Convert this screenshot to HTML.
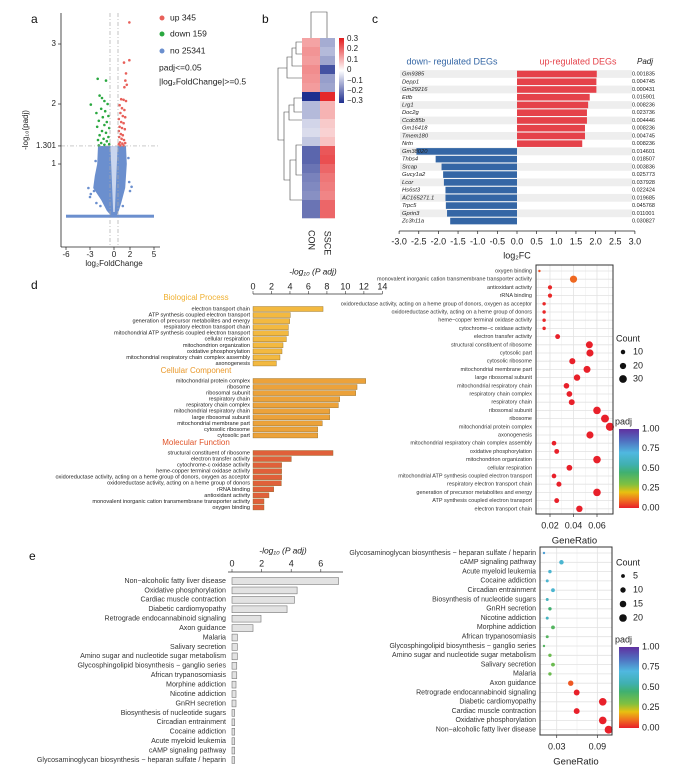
<!DOCTYPE html>
<html><head><meta charset="utf-8">
<style>
body{margin:0;background:#fff;}
svg{display:block;font-family:"Liberation Sans",Arial,sans-serif;}
</style></head>
<body>
<svg id="fig" width="685" height="769" viewBox="0 0 685 769" xmlns="http://www.w3.org/2000/svg">
<defs>
<linearGradient id="heatGrad" x1="0" y1="0" x2="0" y2="1">
<stop offset="0" stop-color="#e31a1c"/><stop offset="0.5" stop-color="#ffffff"/><stop offset="1" stop-color="#1f2f8f"/>
</linearGradient>
<linearGradient id="padjGrad" x1="0" y1="1" x2="0" y2="0">
<stop offset="0" stop-color="#e8202a"/><stop offset="0.1" stop-color="#f07020"/><stop offset="0.2" stop-color="#e8c010"/><stop offset="0.3" stop-color="#80c040"/><stop offset="0.45" stop-color="#40b070"/><stop offset="0.55" stop-color="#40b0b0"/><stop offset="0.7" stop-color="#50b8e0"/><stop offset="0.85" stop-color="#5070c0"/><stop offset="1" stop-color="#6030a0"/>
</linearGradient>
</defs>
</svg>
<script>
// ---------- DATA ----------
const volcanoUp = [[1.92,3.36],[1.92,2.73],[1.25,2.69],[1.5,2.51],[1.42,2.39],[1.6,2.32],[1.3,2.28],[0.9,2.08],[1.2,2.07],[1.5,2.05],[0.7,1.98],[1.0,1.93],[1.3,1.9],[0.8,1.85],[1.1,1.8],[0.6,1.75],[1.4,1.78],[0.9,1.7],[1.2,1.68],[0.7,1.62],[1.0,1.6],[1.35,1.58],[0.6,1.55],[0.85,1.5],[1.1,1.48],[0.65,1.45],[0.95,1.42],[1.25,1.4],[0.75,1.36],[1.05,1.34],[0.6,1.33],[1.4,1.35],[0.8,1.31],[1.2,1.31]];
const volcanoDown = [[-2.04,2.42],[-1.0,2.39],[-1.8,2.14],[-1.5,2.1],[-2.9,1.99],[-1.2,2.05],[-0.8,2.0],[-1.6,1.92],[-1.1,1.88],[-2.2,1.85],[-0.7,1.8],[-1.4,1.78],[-1.9,1.72],[-0.9,1.7],[-1.2,1.65],[-2.1,1.62],[-0.6,1.6],[-1.5,1.55],[-1.0,1.52],[-1.8,1.48],[-0.7,1.45],[-1.3,1.42],[-2.0,1.4],[-0.9,1.38],[-1.6,1.35],[-0.6,1.33],[-1.2,1.32],[-1.9,1.31]];
const volcanoNoEnvelope = [[-2.0,1.3],[-2.1,1.0],[-2.4,0.8],[-2.6,0.6],[-1.6,0.4],[-0.9,0.22],[-0.3,0.13],[0.3,0.13],[0.6,0.22],[0.9,0.35],[1.4,0.6],[1.6,1.0],[1.5,1.3]];
const volcanoNoGap = [[-0.45,1.3],[-0.1,0.2],[0.1,0.2],[0.45,1.3]];
const volcanoNoScatter = [[-3.2,0.6],[-2.9,0.5],[-2.5,0.55],[-3.0,0.45],[-2.2,0.35],[2.0,0.55],[1.9,0.7],[2.2,0.62],[-2.3,1.05],[1.8,1.1],[-1.7,0.3],[1.1,0.3]];
const volcanoXTicks = [-6,-3,0,2,5];
const volcanoYTicks = [1,1.301,2,3];

const heatCON = [0.12,0.14,0.13,0.15,0.14,0.13,-0.3,-0.1,-0.1,-0.06,-0.05,-0.08,-0.22,-0.22,-0.2,-0.18,-0.17,-0.16,-0.2,-0.2];
const heatSSCE = [-0.12,-0.1,-0.13,-0.25,-0.14,-0.13,0.28,0.1,0.1,0.07,0.06,0.08,0.22,0.23,0.2,0.18,0.17,0.16,0.2,0.2];

const degGenes = ["Gm9385","Depp1","Gm29216","Etfb","Lrg1","Doc2g","Ccdc85b","Gm16418","Tmem180","Nrtn","Gm38020","Thbs4","Srcap","Gucy1a2","Lcor","Hs6st3","AC165271.1","Trpc5","Gprin3","Zc3h11a"];
const degLog2FC = [2.03,2.02,2.02,1.85,1.81,1.78,1.78,1.73,1.73,1.66,-2.56,-2.07,-1.92,-1.88,-1.86,-1.82,-1.82,-1.81,-1.78,-1.70];
const degPadj = ["0.001835","0.004745","0.000431","0.015901","0.008236","0.023736","0.004446","0.008236","0.004745","0.008236","0.014601","0.018507","0.003836","0.025773","0.037928","0.022424","0.019685","0.045768","0.011001","0.030827"];
const degTicks = ["-3.0","-2.5","-2.0","-1.5","-1.0","-0.5","0.0","0.5","1.0","1.5","2.0","2.5","3.0"];

const goBPTerms = ["electron transport chain","ATP synthesis coupled electron transport","generation of precursor metabolites and energy","respiratory electron transport chain","mitochondrial ATP synthesis coupled electron transport","cellular respiration","mitochondrion organization","oxidative phosphorylation","mitochondrial respiratory chain complex assembly","axonogenesis"];
const goBPValues = [7.58,4.04,3.97,3.83,3.83,3.61,3.25,3.14,2.92,2.53];
const goCCTerms = ["mitochondrial protein complex","ribosome","ribosomal subunit","respiratory chain","respiratory chain complex","mitochondrial respiratory chain","large ribosomal subunit","mitochondrial membrane part","cytosolic ribosome","cytosolic part"];
const goCCValues = [12.2,11.26,11.12,9.39,9.24,8.3,8.3,7.5,7.0,7.0];
const goMFTerms = ["structural constituent of ribosome","electron transfer activity","cytochrome-c oxidase activity","heme-copper terminal oxidase activity","oxidoreductase activity, acting on a heme group of donors, oxygen as acceptor","oxidoreductase activity, acting on a heme group of donors","rRNA binding","antioxidant activity","monovalent inorganic cation transmembrane transporter activity","oxygen binding"];
const goMFValues = [8.66,4.15,3.1,3.1,3.1,3.07,2.24,1.73,1.19,1.19];
const goTicks = [0,2,4,6,8,10,12,14];

const goDotTerms = ["oxygen binding","monovalent inorganic cation transmembrane transporter activity","antioxidant activity","rRNA binding","oxidoreductase activity, acting on a heme group of donors, oxygen as acceptor","oxidoreductase activity, acting on a heme group of donors","heme\u2212copper terminal oxidase activity","cytochrome\u2212c oxidase activity","electron transfer activity","structural constituent of ribosome","cytosolic part","cytosolic ribosome","mitochondrial membrane part","large ribosomal subunit","mitochondrial respiratory chain","respiratory chain complex","respiratory chain","ribosomal subunit","ribosome","mitochondrial protein complex","axonogenesis","mitochondrial respiratory chain complex assembly","oxidative phosphorylation","mitochondrion organization","cellular respiration","mitochondrial ATP synthesis coupled electron transport","respiratory electron transport chain","generation of precursor metabolites and energy","ATP synthesis coupled electron transport","electron transport chain"];
const goDotRatio = [0.011,0.040,0.020,0.020,0.015,0.015,0.015,0.015,0.0265,0.0535,0.054,0.039,0.0515,0.043,0.034,0.0365,0.0385,0.060,0.0668,0.071,0.054,0.0234,0.0257,0.060,0.0365,0.0234,0.0276,0.060,0.0257,0.045];
const goDotCount = [3,26,9,9,6,6,6,6,12,25,26,19,25,21,16,17,18,29,32,34,26,11,12,29,17,11,13,29,12,21];
const goDotPadj = [0.06,0.09,0.01,0.01,0.01,0.01,0.01,0.01,0.0,0.0,0.0,0.0,0.0,0.0,0.0,0.0,0.0,0.0,0.0,0.0,0.0,0.0,0.0,0.0,0.0,0.0,0.0,0.0,0.0,0.0];
const goDotTicks = [0.02,0.04,0.06];
const goCountLegend = [10,20,30];

const keggTerms = ["Non\u2212alcoholic fatty liver disease","Oxidative phosphorylation","Cardiac muscle contraction","Diabetic cardiomyopathy","Retrograde endocannabinoid signaling","Axon guidance","Malaria","Salivary secretion","Amino sugar and nucleotide sugar metabolism","Glycosphingolipid biosynthesis \u2212 ganglio series","African trypanosomiasis","Morphine addiction","Nicotine addiction","GnRH secretion","Biosynthesis of nucleotide sugars","Circadian entrainment","Cocaine addiction","Acute myeloid leukemia","cAMP signaling pathway","Glycosaminoglycan biosynthesis \u2212 heparan sulfate / heparin"];
const keggValues = [7.2,4.4,4.22,3.72,1.96,1.42,0.36,0.36,0.36,0.32,0.32,0.27,0.27,0.27,0.18,0.18,0.18,0.18,0.18,0.18];
const keggTicks = [0,2,4,6];
const keggDotRatio = [0.1067,0.098,0.0595,0.098,0.0595,0.0507,0.020,0.0245,0.020,0.0112,0.016,0.0245,0.016,0.020,0.016,0.0245,0.016,0.020,0.037,0.0112];
const keggDotCount = [22,20,12,20,12,10,4,5,4,2,3,5,3,4,3,5,3,4,7,2];
const keggDotPadj = [0.0,0.0,0.0,0.0,0.0,0.07,0.35,0.35,0.35,0.4,0.4,0.4,0.6,0.45,0.6,0.65,0.65,0.65,0.65,0.75];
const keggDotTicks = [0.03,0.09];
const keggCountLegend = [5,10,15,20];

// ---------- HELPERS ----------
const NS = "http://www.w3.org/2000/svg";
const svg = document.getElementById("fig");
function mk(tag, attrs, name, parent) {
  const el = document.createElementNS(NS, tag);
  for (const k in attrs) el.setAttribute(k, attrs[k]);
  
  
  (parent || svg).appendChild(el);
  return el;
}
function tx(x, y, s, size, name, opts) {
  opts = opts || {};
  const el = mk("text", {x:x, y:y, "font-size":size, fill:opts.fill||"#222", "text-anchor":opts.anchor||"start", "font-style":opts.italic?"italic":"normal", "dominant-baseline":"middle"}, name);
  if (opts.transform) el.setAttribute("transform", opts.transform);
  el.textContent = s;
  return el;
}
function line(x1,y1,x2,y2,stroke,w,name,dash){
  const el = mk("line",{x1:x1,y1:y1,x2:x2,y2:y2,stroke:stroke,"stroke-width":w},name);
  if (dash) el.setAttribute("stroke-dasharray", dash);
  return el;
}
function padjColor(p){
  const stops=[[0,[232,32,42]],[0.1,[240,112,32]],[0.2,[232,192,16]],[0.3,[128,192,64]],[0.45,[64,176,112]],[0.55,[64,176,176]],[0.7,[80,184,224]],[0.85,[80,112,192]],[1,[96,48,160]]];
  for(let i=1;i<stops.length;i++){ if(p<=stops[i][0]){ const a=stops[i-1],b=stops[i],t=(p-a[0])/(b[0]-a[0]); const c=a[1].map((v,j)=>Math.round(v+(b[1][j]-v)*t)); return `rgb(${c.join(",")})`; } }
  return "rgb(96,48,160)";
}
function heatColor(v){
  const t=Math.max(-1,Math.min(1,v/0.3));
  let c;
  if(t>=0){ c=[255+(227-255)*t,255+(26-255)*t,255+(28-255)*t]; }
  else { const u=-t; c=[255+(31-255)*u,255+(47-255)*u,255+(143-255)*u]; }
  return `rgb(${c.map(Math.round).join(",")})`;
}

// ---------- PANEL A: volcano ----------
tx(31,20,"a",12,"panel-label-a",{fill:"#111"});
const vx = v => 114 + v*8;
const vy = v => 224 - v*60;
// envelope of "no" points
mk("polygon",{points:volcanoNoEnvelope.map(p=>vx(p[0])+","+vy(p[1])).join(" "),fill:"#6b8fce"},"no-change-points-cloud");
mk("polygon",{points:volcanoNoGap.map(p=>vx(p[0])+","+vy(p[1])).join(" "),fill:"#c9d5ee"},"no-change-gap");
mk("rect",{x:vx(-6),y:vy(0.13)-1.5,width:vx(5)-vx(-6),height:3,fill:"#6b8fce"},"no-change-baseline-points");
volcanoNoScatter.forEach((p,i)=>{ mk("circle",{cx:vx(p[0]),cy:vy(p[1]),r:1.3,fill:"#6b8fce"},"no-point"); });
volcanoUp.forEach(p=>{ mk("circle",{cx:vx(p[0]),cy:vy(p[1]),r:1.3,fill:"#e8605a"},"up-point"); });
volcanoDown.forEach(p=>{ mk("circle",{cx:vx(p[0]),cy:vy(p[1]),r:1.3,fill:"#2aa840"},"down-point"); });
line(vx(-0.5),13,vx(-0.5),247,"#aaa",0.7,"threshold-line-left","4,2,1,2");
line(vx(0.5),13,vx(0.5),247,"#aaa",0.7,"threshold-line-right","4,2,1,2");
line(61,vy(1.301),160,vy(1.301),"#aaa",0.7,"threshold-line-padj","4,2,1,2");
line(61,13,61,247,"#222",0.8,"volcano-y-axis");
line(61,247,160,247,"#222",0.8,"volcano-x-axis");
volcanoXTicks.forEach(t=>{ line(vx(t),247,vx(t),250,"#222",0.7,"x-tick"); tx(vx(t),255,String(t),8,"x-tick-label",{anchor:"middle"}); });
volcanoYTicks.forEach(t=>{ line(58,vy(t),61,vy(t),"#222",0.7,"y-tick"); tx(56,vy(t),String(t),8,"y-tick-label",{anchor:"end"}); });
tx(114,250+14,"log\u2082FoldChange",8,"volcano-x-axis-title",{anchor:"middle"});
tx(26,130,"-log\u2081\u2080(padj)",8,"volcano-y-axis-title",{anchor:"middle",transform:"rotate(-90 26 130)"});
[["up 345","#e8605a",18],["down 159","#2aa840",34],["no 25341","#6b8fce",51]].forEach(l=>{
  mk("circle",{cx:162,cy:l[2],r:2.5,fill:l[1]},"legend-dot");
  tx(170,l[2],l[0],8.5,"legend-entry");
});
tx(159,68,"padj<=0.05",8.5,"threshold-note");
tx(159,82,"|log\u2082FoldChange|>=0.5",8.5,"threshold-note");

// ---------- PANEL B: heatmap ----------
tx(262,20,"b",12,"panel-label-b",{fill:"#111"});
const hTop=38, hRow=9, hX0=302, hX1=320, hX2=335;
heatCON.forEach((v,i)=>{ mk("rect",{x:hX0,y:hTop+i*hRow,width:hX1-hX0,height:hRow+0.3,fill:heatColor(v)},"heat-cell-con"); });
heatSSCE.forEach((v,i)=>{ mk("rect",{x:hX1,y:hTop+i*hRow,width:hX2-hX1,height:hRow+0.3,fill:heatColor(v)},"heat-cell-ssce"); });
// dendrograms
mk("path",{d:"M311 38 V12 H327 V38 M302 42 H296 V54 H302 M296 48 H292 V66 H302 M292 57 H287 V78 H302 M287 68 H278 V130 M302 98 H294 V112 H302 M294 105 H289 V120 H302 M289 112 H284 V160 M302 145 H296 V175 H302 M296 160 H290 V200 H302 M290 180 H284 V160 M284 140 H278 V130",fill:"none",stroke:"#444","stroke-width":0.6},"row-dendrogram");
mk("rect",{x:339,y:38,width:5,height:65,fill:"url(#heatGrad)"},"heat-colorbar");
[["0.3",39],["0.2",49],["0.1",60],["0",70],["\u22120.1",81],["\u22120.2",91],["\u22120.3",101]].forEach(l=>{ tx(347,l[1],l[0],8,"colorbar-label"); });
tx(311,240,"CON",9,"column-label-con",{anchor:"middle",transform:"rotate(90 311 240)"});
tx(327,243,"SSCE",9,"column-label-ssce",{anchor:"middle",transform:"rotate(90 327 243)"});

// ---------- PANEL C: DEG bars ----------
tx(372,20,"c",12,"panel-label-c",{fill:"#111"});
const cx0=517, cs=39.3, cRow0=74, cRowH=7.74;
const cX = v => cx0 + v*cs;
degGenes.forEach((g,i)=>{
  const y=cRow0+i*cRowH;
  if(i%2===0) mk("rect",{x:400,y:y-cRowH/2,width:232,height:cRowH,fill:"#eeeeee"},"row-stripe");
  const v=degLog2FC[i];
  mk("rect",{x:Math.min(cX(0),cX(v)),y:y-3.3,width:Math.abs(cX(v)-cX(0)),height:6.6,fill:v>0?"#e5424a":"#3466a5"},v>0?"up-bar":"down-bar");
  tx(402,y,g,5.8,"gene-label",{italic:true});
  tx(632,y,degPadj[i],5.5,"padj-value");
});
line(cX(-3),231,cX(3),231,"#222",0.8,"deg-x-axis");
degTicks.forEach(t=>{ const v=parseFloat(t); line(cX(v),231,cX(v),234,"#222",0.7,"x-tick"); tx(cX(v),242,t,9,"x-tick-label",{anchor:"middle"}); });
tx(517,256,"log\u2082FC",9,"deg-x-axis-title",{anchor:"middle"});
tx(452,62,"down- regulated DEGs",9,"down-header",{anchor:"middle",fill:"#3466a5"});
tx(578,62,"up-regulated DEGs",9,"up-header",{anchor:"middle",fill:"#e5424a"});
tx(637,62,"Padj",8,"padj-header",{italic:true});

// ---------- PANEL D left: GO bars ----------
tx(31,286,"d",12,"panel-label-d",{fill:"#111"});
const dX = v => 253 + v*9.24;
line(253,294,dX(14),294,"#333",0.8,"go-x-axis");
goTicks.forEach(t=>{ line(dX(t),294,dX(t),291,"#333",0.6,"x-tick"); tx(dX(t),287,String(t),9,"x-tick-label",{anchor:"middle"}); });
tx(313,272,"-log\u2081\u2080 (P adj)",8.5,"go-x-axis-title",{anchor:"middle",italic:true});
function goGroup(terms,vals,headerY,rowY0,color,header,hcolor,key){
  tx(196,headerY,header,8,key+"-header",{anchor:"middle",fill:hcolor});
  terms.forEach((t,i)=>{
    const y=rowY0+i*6.05;
    mk("rect",{x:253,y:y-2.5,width:dX(vals[i])-253,height:5,fill:color,stroke:"#8a6a2a","stroke-width":0.4},key+"-bar");
    tx(250,y,t,5.6,key+"-term-label",{anchor:"end"});
  });
}
goGroup(goBPTerms,goBPValues,298,309,"#f3b940","Biological Process","#f0b030","bp");
goGroup(goCCTerms,goCCValues,371,381,"#eca23a","Cellular Component","#e9982a","cc");
goGroup(goMFTerms,goMFValues,443,453,"#e0603a","Molecular Function","#e0542a","mf");

// ---------- PANEL D right: GO dot plot ----------
function dotPlot(terms,ratio,count,padj,ticks,scale,zero,frame,row0,rowH,rScale,key,minor){
  mk("rect",{x:frame[0],y:frame[1],width:frame[2]-frame[0],height:frame[3]-frame[1],fill:"#fff"},key+"-panel-bg");
  minor.forEach(m=>{ line(zero+m*scale,frame[1],zero+m*scale,frame[3],"#ececec",0.5,"grid-minor"); });
  ticks.forEach(t=>{ line(zero+t*scale,frame[1],zero+t*scale,frame[3],"#e2e2e2",0.8,"grid-major"); });
  terms.forEach((t,i)=>{ const y=row0+i*rowH; line(frame[0],y,frame[2],y,"#e2e2e2",0.8,"grid-row"); });
  terms.forEach((t,i)=>{
    const y=row0+i*rowH;
    mk("circle",{cx:zero+ratio[i]*scale,cy:y,r:Math.sqrt(count[i])*rScale,fill:padjColor(padj[i])},key+"-dot");
    tx(frame[0]-4,y,t,key==="go"?5.5:7,key+"-term-label",{anchor:"end",fill:"#333"});
  });
  mk("rect",{x:frame[0],y:frame[1],width:frame[2]-frame[0],height:frame[3]-frame[1],fill:"none",stroke:"#333","stroke-width":1},key+"-panel-frame");
  ticks.forEach(t=>{ line(zero+t*scale,frame[3],zero+t*scale,frame[3]+3,"#333",0.7,"x-tick"); tx(zero+t*scale,frame[3]+12,String(t).replace(/^0\./,"0."),9,"x-tick-label",{anchor:"middle"}); });
  tx((frame[0]+frame[2])/2,frame[3]+27,"GeneRatio",9.5,key+"-x-axis-title",{anchor:"middle"});
}
dotPlot(goDotTerms,goDotRatio,goDotCount,goDotPadj,goDotTicks,1175,526.5,[536,265,613,514],271,8.2,0.7,"go",[0.01,0.03,0.05,0.07]);
function legends(countTitleY,counts,ys,rScale,padjTitleY,barTop,barBot,key){
  tx(616,countTitleY,"Count",9,key+"-count-legend-title");
  counts.forEach((c,i)=>{ mk("circle",{cx:623,cy:ys[i],r:Math.sqrt(c)*rScale,fill:"#111"},key+"-count-legend-dot"); tx(633,ys[i],String(c),9,key+"-count-legend-label"); });
  tx(615,padjTitleY,"padj",9,key+"-padj-legend-title");
  mk("rect",{x:619,y:barTop,width:20,height:barBot-barTop,fill:"url(#padjGrad)"},key+"-padj-colorbar");
  ["1.00","0.75","0.50","0.25","0.00"].forEach((l,i)=>{ tx(642,barTop+i*(barBot-barTop)/4,l,9,key+"-padj-label"); });
}
legends(339,goCountLegend,[352,366,379],0.7,422,429,508,"go");

// ---------- PANEL E left: KEGG bars ----------
tx(29,557,"e",12,"panel-label-e",{fill:"#111"});
const eX = v => 232 + v*14.8;
line(228,572,dX?343:343,572,"#333",0.8,"kegg-x-axis");
keggTicks.forEach(t=>{ line(eX(t),572,eX(t),569,"#333",0.6,"x-tick"); tx(eX(t),564,String(t),9,"x-tick-label",{anchor:"middle"}); });
tx(283,551,"-log\u2081\u2080 (P adj)",8.5,"kegg-x-axis-title",{anchor:"middle",italic:true});
keggTerms.forEach((t,i)=>{
  const y=581+i*9.42;
  mk("rect",{x:232,y:y-3.4,width:eX(keggValues[i])-232,height:6.8,fill:"#e2e2e2",stroke:"#777","stroke-width":0.6},"kegg-bar");
  tx(226,y,t,7.1,"kegg-term-label",{anchor:"end",fill:"#333"});
});

// ---------- PANEL E right: KEGG dot plot ----------
const keggDotTermsRev = keggTerms.slice().reverse();
const keggRatioRev = keggDotRatio.slice().reverse();
const keggCountRev = keggDotCount.slice().reverse();
const keggPadjRev = keggDotPadj.slice().reverse();
dotPlot(keggDotTermsRev,keggRatioRev,keggCountRev,keggPadjRev,keggDotTicks,677,536.4,[540,547,612,735],553,9.3,0.85,"kegg",[0.06]);
legends(563,keggCountLegend,[576,590,604,618],0.85,640,647,728,"kegg");
</script>
</body></html>
